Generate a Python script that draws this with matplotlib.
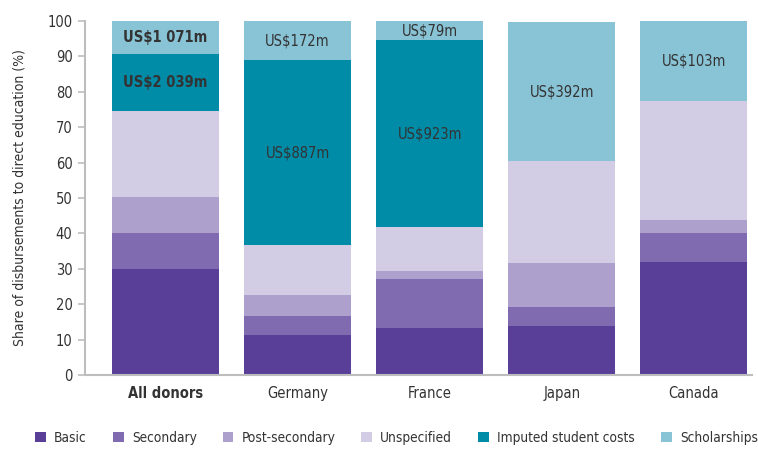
import matplotlib
matplotlib.use('Agg')
from matplotlib import pyplot as plt
from matplotlib import font_manager
from matplotlib.patches import Patch
import numpy as np

# donors and their shares (%) of disbursements to direct education
donors = ['All donors', 'Germany', 'France', 'Japan', 'Canada']
basic = [30.0, 11.3, 13.3, 13.8, 31.9]
secondary = [10.0, 5.4, 13.8, 5.4, 8.2]
post_secondary = [10.2, 5.9, 2.3, 12.4, 3.7]
unspecified = [24.4, 14.1, 12.4, 28.9, 33.6]
imputed = [16.1, 52.3, 52.8, 0.0, 0.0]
scholarships = [9.3, 11.0, 5.4, 39.2, 22.6]

# dollar labels per bar
imputed_labels = ['US$2 039m', 'US$887m', 'US$923m', '', '']
scholar_labels = ['US$1 071m', 'US$172m', 'US$79m', 'US$392m', 'US$103m']

series = [basic, secondary, post_secondary, unspecified, imputed, scholarships]
names = ['Basic', 'Secondary', 'Post-secondary', 'Unspecified',
         'Imputed student costs', 'Scholarships']
colors = ['#5a3f98', '#806bb0', '#ada0cd', '#d2cce4', '#008ba7', '#89c4d6']

# look for a narrow font, the original uses a condensed face
installed = {f.name for f in font_manager.fontManager.ttflist}
condensed = [f for f in font_manager.fontManager.ttflist
             if f.stretch in ('condensed', 'semi-condensed', 'extra-condensed')]
fs, lfs = 10.5, 9.8
if 'Liberation Sans Narrow' in installed:
    plt.rcParams['font.family'] = ['Liberation Sans Narrow', 'DejaVu Sans']
    fs, lfs = 11.5, 11
elif condensed:
    plt.rcParams['font.family'] = [condensed[0].name, 'DejaVu Sans']
    plt.rcParams['font.stretch'] = 'condensed'
else:
    fs, lfs = 9.5, 8
txt = '#333333'
grey = '#bdbdbd'

fig = plt.figure(figsize=(7.58, 4.49), dpi=100)
ax = fig.add_axes([0.112, 0.165, 0.88, 0.788])

x = np.arange(len(donors))
bottom = np.zeros(len(donors))
for vals, c in zip(series, colors):
    ax.bar(x, vals, bottom=bottom, width=0.81, color=c, linewidth=0)
    bottom += np.array(vals)

# text in the imputed and scholarship segments
imp_bottom = np.array(basic) + np.array(secondary) + np.array(post_secondary) + np.array(unspecified)
sch_bottom = imp_bottom + np.array(imputed)
for i in range(len(donors)):
    w = 'bold' if i == 0 else 'normal'
    if imputed_labels[i]:
        ax.text(x[i], imp_bottom[i] + imputed[i] / 2, imputed_labels[i],
                ha='center', va='center', fontsize=fs, color=txt, fontweight=w)
    ax.text(x[i], sch_bottom[i] + scholarships[i] / 2, scholar_labels[i],
            ha='center', va='center', fontsize=fs, color=txt, fontweight=w)

ax.set_xlim(-0.61, 4.44)
ax.set_ylim(0, 100)
ax.set_yticks(range(0, 101, 10))
ax.set_xticks(x)
ax.set_xticklabels(donors)
ax.get_xticklabels()[0].set_fontweight('bold')
ax.tick_params(axis='y', length=5, width=1.2, color=grey, labelsize=fs, labelcolor=txt, pad=4)
ax.tick_params(axis='x', length=0, labelsize=fs, labelcolor=txt, pad=8)
ax.set_ylabel('Share of disbursements to direct education (%)', fontsize=fs - 0.5, color=txt)
ax.yaxis.set_label_coords(-0.087, 0.5)

for s in ['top', 'right']:
    ax.spines[s].set_visible(False)
for s in ['left', 'bottom']:
    ax.spines[s].set_color(grey)
    ax.spines[s].set_linewidth(1.5)

handles = [Patch(facecolor=c, edgecolor='none') for c in colors]
fig.legend(handles, names, loc='lower center', bbox_to_anchor=(0.523, -0.018), ncol=6,
           frameon=False, fontsize=lfs, handlelength=0.8, handleheight=0.8,
           handletextpad=0.6, columnspacing=1.9, labelcolor=txt)

plt.savefig('out.png', dpi=100)
